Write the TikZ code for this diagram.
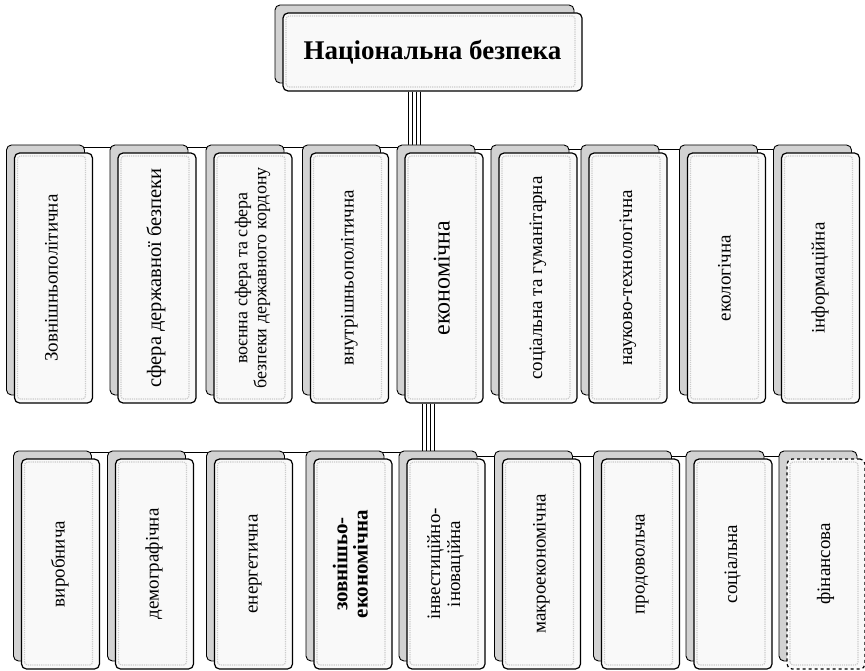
\documentclass[tikz,border=0pt]{standalone}
\usepackage{fontspec}
\setmainfont{Liberation Serif}
\usetikzlibrary{shadows,backgrounds}

\tikzset{
  blok/.style={draw, line width=1.2pt, rounded corners=5pt, fill=gray!5, inner sep=0pt, align=center,
    copy shadow={shadow xshift=-8pt, shadow yshift=8pt, fill=gray!35, draw=black, solid, line width=0.9pt},
    path picture={\draw[gray!40, densely dotted, rounded corners=3pt]
      ([shift={(3pt,4pt)}]path picture bounding box.south west) rectangle
      ([shift={(-7pt,-3pt)}]path picture bounding box.north east);}},
  sfera/.style={blok, minimum width=78pt, minimum height=250pt, font=\fontsize{19}{21}\selectfont},
  vyd/.style={blok, minimum width=78pt, minimum height=210pt, font=\fontsize{19}{21}\selectfont},
  zv/.style={line width=0.7pt}
}
\newcommand{\vtxt}[1]{\rotatebox{90}{\begin{tabular}{@{}c@{}}#1\end{tabular}}}

\begin{document}
\begin{tikzpicture}[x=1pt, y=-1pt]
  \useasboundingbox (0,0) rectangle (865,671);

  % головний блок
  \node[blok, minimum width=299pt, minimum height=78pt, font=\bfseries\fontsize{27}{30}\selectfont]
    (nb) at (432.5,52) {Національна безпека};

  % сфери національної безпеки
  \node[sfera] (a1) at (53.5,278) {\vtxt{Зовнішньополітична}};
  \node[sfera, font=\fontsize{20.5}{21}\selectfont] (a2) at (157,278) {\vtxt{сфера державної безпеки}};
  \node[sfera, font=\fontsize{18}{19}\selectfont] (a3) at (253,278) {\vtxt{воєнна сфера та сфера\\безпеки державного кордону}};
  \node[sfera] (a4) at (349.5,278) {\vtxt{внутрішньополітична}};
  \node[sfera, font=\fontsize{24}{28}\selectfont] (a5) at (444,278) {\vtxt{економічна}};
  \node[sfera] (a6) at (538,278) {\vtxt{соціальна та гуманітарна}};
  \node[sfera] (a7) at (628,278) {\vtxt{науково-технологічна}};
  \node[sfera] (a8) at (726.5,278) {\vtxt{екологічна}};
  \node[sfera] (a9) at (820.5,278) {\vtxt{інформаційна}};

  % складові економічної безпеки
  \node[vyd] (b1) at (60.5,564) {\vtxt{виробнича}};
  \node[vyd] (b2) at (154.5,564) {\vtxt{демографічна}};
  \node[vyd] (b3) at (253.5,564) {\vtxt{енергетична}};
  \node[vyd, font=\bfseries\fontsize{21}{19}\selectfont] (b4) at (353,564) {\vtxt{зовнішьо-\\економічна}};
  \node[vyd, font=\fontsize{19}{20}\selectfont] (b5) at (446,564) {\vtxt{інвестиційно-\\іноваційна}};
  \node[vyd] (b6) at (541.5,564) {\vtxt{макроекономічна}};
  \node[vyd] (b7) at (640.5,564) {\vtxt{продовольча}};
  \node[vyd] (b8) at (733,564) {\vtxt{соціальна}};
  \node[vyd, dashed] (b9) at (826,564) {\vtxt{фінансова}};

  % зв'язки
  \begin{scope}[on background layer]
    \foreach \k/\dx/\dy in {a1/-24/56, a2/-20/56, a3/-16/56, a4/-12/56, a5/-12/58,
                            a6/-24/58, a7/-20/58, a8/-16/58, a9/-12/58}
      \draw[zv] ([xshift=\dx pt]nb.south) -- ++(0,\dy) -| (\k.north);
    \foreach \k/\dx/\dy in {b1/-22/49, b2/-18/49, b3/-14/49, b4/-10/49, b5/-10/52,
                            b6/-22/53, b7/-18/53, b8/-14/53, b9/-10/53}
      \draw[zv] ([xshift=\dx pt]a5.south) -- ++(0,\dy) -| (\k.north);
  \end{scope}
\end{tikzpicture}
\end{document}
